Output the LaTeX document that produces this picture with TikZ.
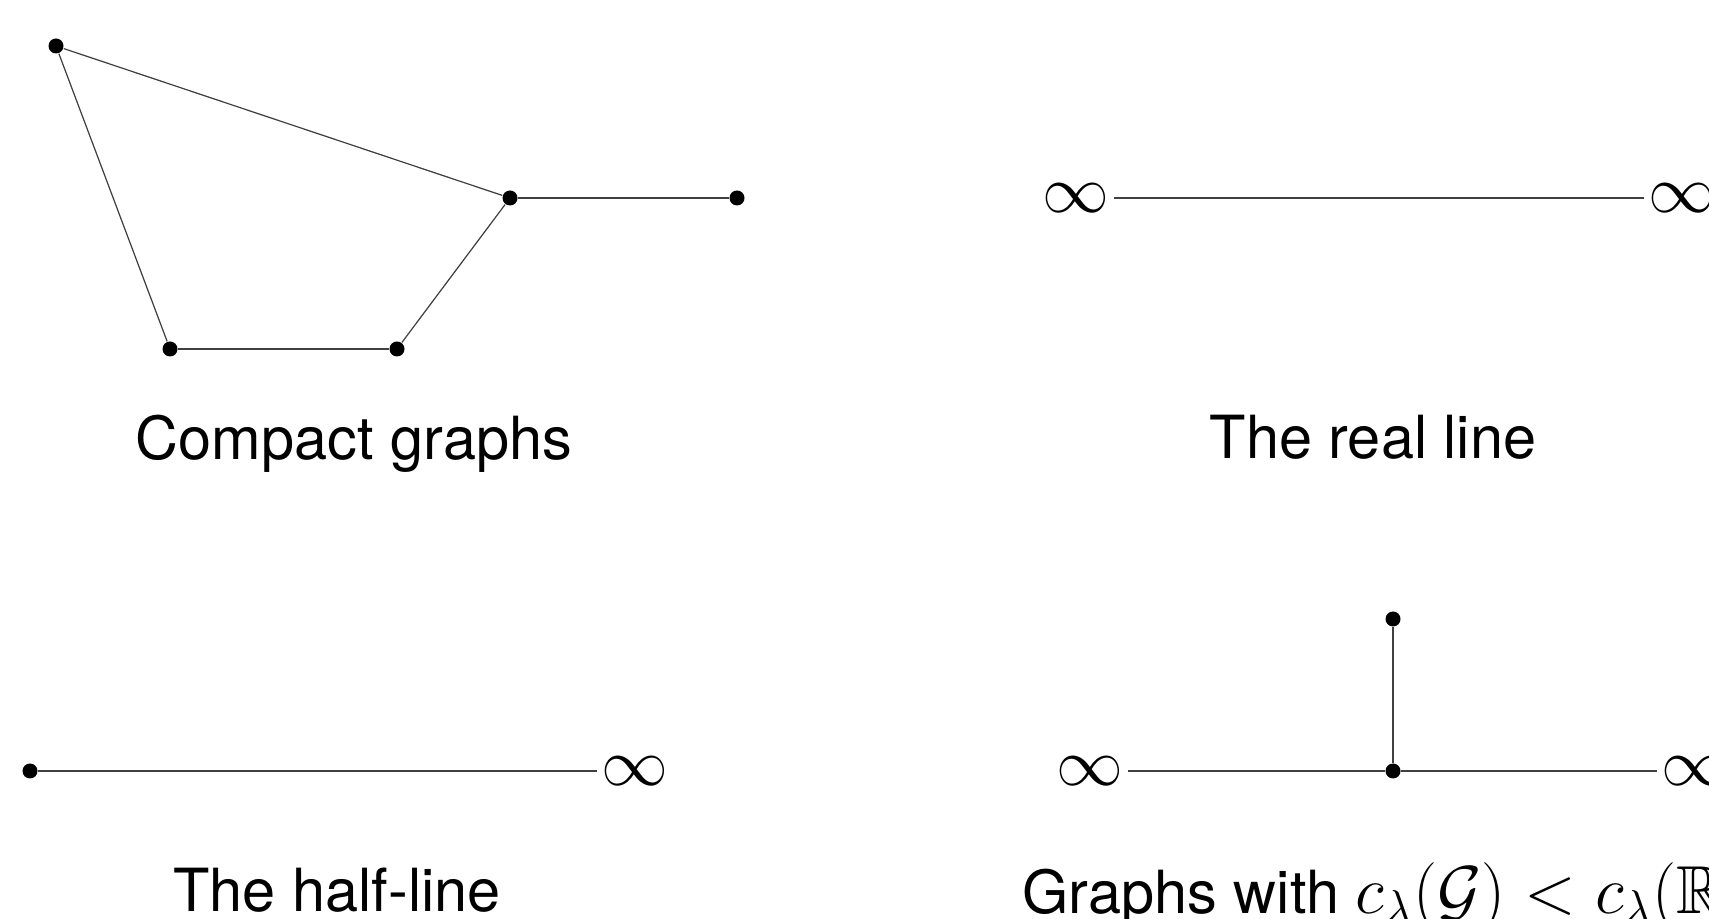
\RequirePackage{fix-cm}
\documentclass[tikz,border=0pt]{standalone}
\usepackage{amsmath}
\usepackage{amssymb}
\usepackage[no-math]{fontspec}
\setmainfont{TeX Gyre Heros}[Scale=0.9]
\usepackage{tikz}
\usetikzlibrary{positioning}

\begin{document}
\begin{tikzpicture}[
  vertex/.style={circle, fill=black, inner sep=0pt, minimum size=0.15cm},
  inf/.style={inner sep=1pt, font=\fontsize{19}{22}\selectfont},
  edge/.style={line width=0.35pt, black!75},
  caption/.style={anchor=base, inner sep=0pt, font=\fontsize{18.8}{22}\selectfont}
]
\useasboundingbox (0,0) rectangle (17.09,9.18);
\clip (0,0) rectangle (17.09,9.18);

% compact graph
\node[vertex] (a) at (0.56,8.72) {};
\node[vertex] (b) at (5.10,7.20) {};
\node[vertex] (c) at (7.37,7.20) {};
\node[vertex] (d) at (1.70,5.69) {};
\node[vertex] (e) at (3.97,5.69) {};
\draw[edge] (a) -- (b);
\draw[edge] (a) -- (d);
\draw[edge] (d) -- (e);
\draw[edge] (e) -- (b);
\draw[edge] (b) -- (c);
\node[caption] (compact) at (3.54,4.58) {Compact graphs};

% real line
\node[inf] (rl) at (10.76,7.20) {$\infty$};
\node[inf] (rr) at (16.82,7.20) {$\infty$};
\draw[edge] (rl) -- (rr);
\node[caption] (real) at (13.73,4.59) {The real line};

% half-line
\node[vertex] (h0) at (0.30,1.47) {};
\node[inf] (hinf) at (6.345,1.47) {$\infty$};
\draw[edge] (h0) -- (hinf);
\node[caption] (half) at (3.37,0.06) {The half-line};

% star graph
\node[inf] (sl) at (10.90,1.47) {$\infty$};
\node[vertex] (hub) at (13.93,1.47) {};
\node[inf] (sr) at (16.945,1.47) {$\infty$};
\node[vertex] (top) at (13.93,2.99) {};
\draw[edge] (sl) -- (hub);
\draw[edge] (hub) -- (sr);
\draw[edge] (hub) -- (top);
\node[caption, anchor=base west] (graphs) at (10.22,0.05)
  {Graphs with {\fontsize{19.3}{24}\selectfont$c_\lambda(\mathcal{G}) < c_\lambda(\mathbb{R})$}};
\end{tikzpicture}
\end{document}
